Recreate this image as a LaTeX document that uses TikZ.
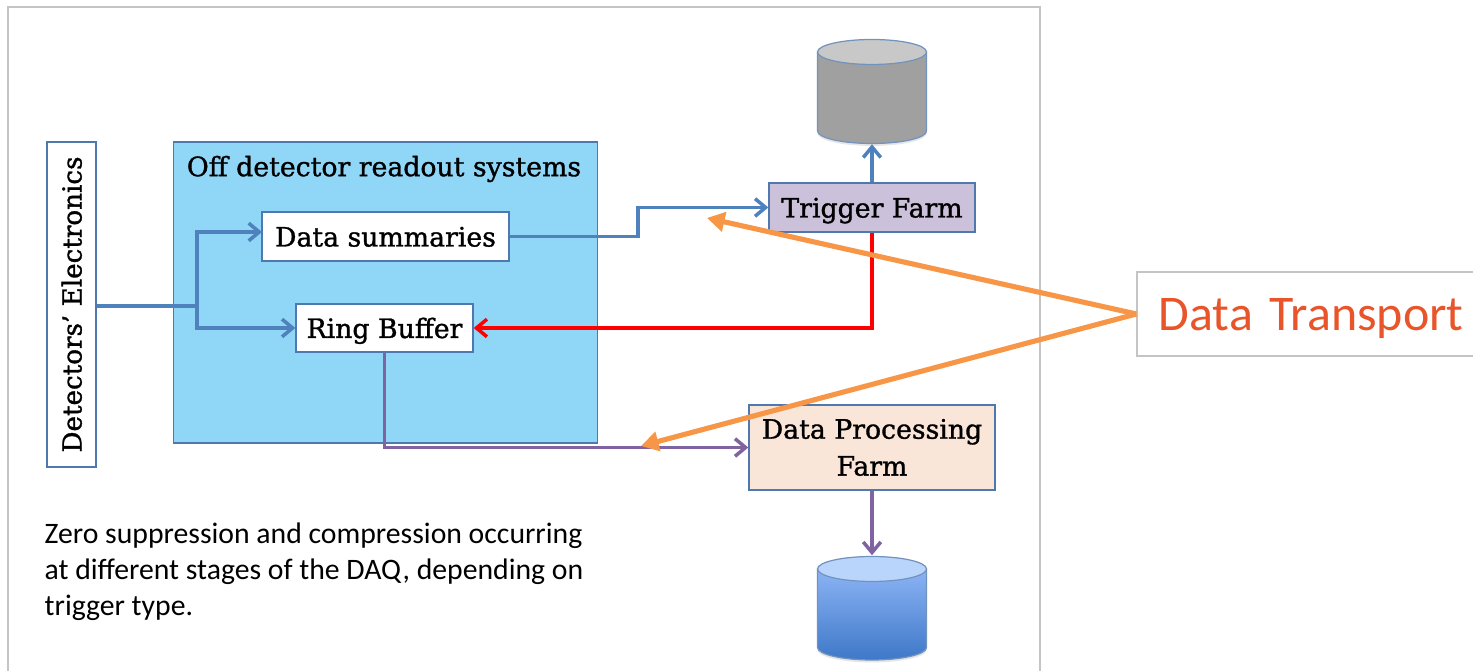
\documentclass[tikz,border=0pt]{standalone}
\usepackage{fontspec}
\usepackage{tikz}
\usetikzlibrary{arrows.meta,shadows}
\setmainfont{DejaVu Serif}[FakeBold=1.2]
\newfontfamily\notefont{Carlito}

\definecolor{boxline}{HTML}{4F78AE}
\definecolor{bluearrow}{HTML}{4F81BD}
\definecolor{purplearrow}{HTML}{8064A2}
\definecolor{orangearrow}{HTML}{F79646}
\definecolor{framegray}{HTML}{C4C4C4}
\definecolor{offfill}{RGB}{143,214,247}
\definecolor{trigfill}{RGB}{204,193,218}
\definecolor{procfill}{RGB}{250,230,216}
\definecolor{transportred}{RGB}{232,85,42}

\tikzset{
    block/.style={draw=boxline,line width=0.35pt,inner sep=0pt,font=\fontsize{7.6}{10.5}\selectfont,align=center},
    oneline/.style={text height=0.25cm,text depth=0.05cm},
    flow/.style={line width=1pt,-{Straight Barb[length=3pt,width=5pt,line width=1pt]}},
    pointer/.style={draw=orangearrow,line width=1.45pt,-{Triangle[length=5pt,width=5.5pt]}},
    store/.style={inner sep=0pt,minimum width=1.09cm,minimum height=1.04cm},
    diskside/.style={draw=boxline!80,line width=0.35pt,drop shadow={shadow xshift=0pt,shadow yshift=-0.7pt,opacity=0.2}},
    disktop/.style={draw=boxline!80,line width=0.35pt}
}

\begin{document}
\begin{tikzpicture}[x=0.01cm,y=-0.01cm]
    \useasboundingbox (0,0) rectangle (1473,671);

    \draw[framegray,line width=0.55pt] (8,671) -- (8,7) -- (1040,7) -- (1040,671);

    \node[block,oneline,fill=white,rotate=90,minimum width=3.25cm,minimum height=0.49cm,font=\fontsize{7.45}{10}\selectfont] (det) at (71.5,304.5) {Detectors’ Electronics};

    \node[block,fill=offfill,minimum width=4.23cm,minimum height=3.01cm] (off) at (385.5,292.5) {};
    \node[font=\fontsize{7.6}{11}\selectfont] (offlabel) at (384,169) {Off detector readout systems};

    \node[block,oneline,fill=white,minimum width=2.47cm,minimum height=0.49cm] (sum) at (385.5,236.5) {Data summaries};
    \node[block,oneline,fill=white,minimum width=1.77cm,minimum height=0.48cm] (ring) at (384.5,328) {Ring Buffer};
    \node[block,oneline,fill=trigfill,minimum width=2.06cm,minimum height=0.49cm] (trig) at (872,207.5) {Trigger Farm};
    \node[block,fill=procfill,minimum width=2.46cm,minimum height=0.85cm] (proc) at (872,447.5) {Data Processing\\Farm};

    \node[store] (disk1) at (872,91.5) {};
    \draw[diskside,fill={rgb,255:red,160;green,160;blue,160}] (817.5,52) -- (817.5,131) arc [start angle=180,end angle=0,x radius=54.5,y radius=12.5] -- (926.5,52) -- cycle;
    \draw[disktop,fill={rgb,255:red,200;green,200;blue,200}] (872,52) ellipse [x radius=54.5,y radius=12.5];

    \node[store] (disk2) at (872,608) {};
    \draw[diskside,top color={rgb,255:red,140;green,180;blue,245},bottom color={rgb,255:red,62;green,120;blue,200}] (817.5,569) -- (817.5,647.5) arc [start angle=180,end angle=0,x radius=54.5,y radius=12.5] -- (926.5,569) -- cycle;
    \draw[disktop,fill={rgb,255:red,185;green,213;blue,252}] (872,569) ellipse [x radius=54.5,y radius=12.5];

    \coordinate (split) at (197,306);
    \coordinate (sumin) at (262,232);
    \coordinate (step1) at (638,236.5);
    \coordinate (step2) at (638,207.5);
    \draw[bluearrow,line width=1.3pt] (det.south |- split) -- (split);
    \draw[bluearrow,flow] (split) |- (sumin);
    \draw[bluearrow,flow] (split) |- (ring.west);
    \draw[bluearrow,flow] (sum.east) -- (step1) -- (step2) -- (trig.west);
    \draw[bluearrow,flow] (trig.north) -- (disk1.south);
    \draw[red,flow] (trig.south) |- (ring.east);
    \draw[purplearrow,flow] (ring.south) |- (proc.west);
    \draw[purplearrow,flow] (proc.south) -- (disk2.north);

    \node[font=\notefont\fontsize{8.45}{10.2}\selectfont,align=left,anchor=north west,inner sep=0pt] (note) at (44,522) {Zero suppression and compression occurring\\at different stages of the DAQ, depending on\\trigger type.};

    \node[draw=framegray,line width=0.35pt,inner sep=0pt,minimum width=3.36cm,minimum height=0.84cm,text width=3.17cm,align=right,text height=0.42cm,text depth=0.08cm,text=transportred,font=\notefont\fontsize{14.2}{17}\selectfont] (transport) at (1305,314) {Data Transport};

    % both pointers leave from the label box
    \coordinate (tiptop) at (707,218);
    \coordinate (tipbot) at (641,446);
    \draw[pointer] (transport.west) -- (tiptop);
    \draw[pointer] (transport.west) -- (tipbot);
\end{tikzpicture}
\end{document}
